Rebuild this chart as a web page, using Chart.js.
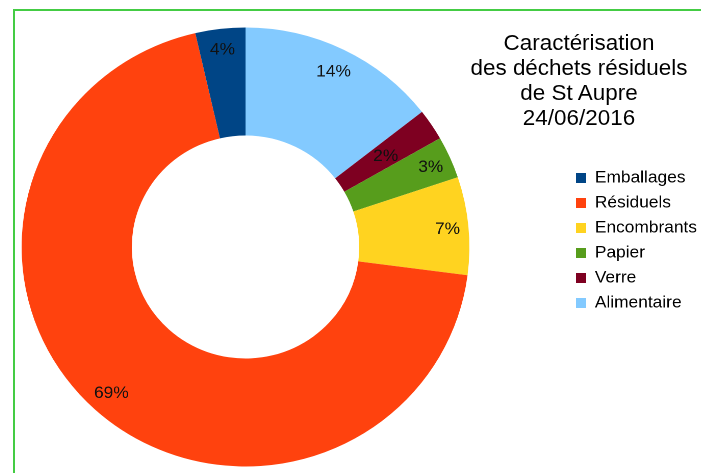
<!DOCTYPE html>
<html><head><meta charset="utf-8">
<script src="https://cdn.jsdelivr.net/npm/chart.js@4/dist/chart.umd.min.js"></script>
<style>
html,body{margin:0;padding:0;width:701px;height:473px;overflow:hidden;background:#fff;position:relative}
#frame{position:absolute;left:13px;top:9px;width:800px;height:600px;border:2px solid #44cc44;box-sizing:border-box}
#wrap{position:absolute;left:-71px;top:0;width:778px;height:473px;transform:scaleX(1.02);transform-origin:316.5px 0}
#title{position:absolute;left:459px;top:30px;width:240px;text-align:center;font:22px/25px 'Liberation Sans',Arial,sans-serif;color:#000;white-space:nowrap;transform:scaleX(1.02);transform-origin:120px 0}
</style></head><body>
<div id="frame"></div>
<div id="wrap"><canvas id="c" width="778" height="473"></canvas></div>
<div id="title"></div>
<script>
const categories = ['Alimentaire', 'Verre', 'Papier', 'Encombrants', 'Résiduels', 'Emballages'];
const values = [14.45, 2.3, 3.1, 7.2, 69.35, 3.6];
const colors = ['#83caff', '#7e0021', '#579d1c', '#ffd320', '#ff420e', '#004586'];
const titleLines = ['Caractérisation', 'des déchets résiduels', 'de St Aupre', '24/06/2016'];

const titleEl = document.getElementById('title');
titleLines.forEach((t, i) => {
  if (i) titleEl.appendChild(document.createElement('br'));
  titleEl.appendChild(document.createTextNode(t));
});

const pctLabels = {
  id: 'pctLabels',
  afterDatasetsDraw(chart, args, opts) {
    const ctx = chart.ctx;
    const meta = chart.getDatasetMeta(0);
    const data = chart.data.datasets[0].data;
    const total = data.reduce((a, b) => a + b, 0);
    ctx.save();
    ctx.font = opts.font;
    ctx.fillStyle = opts.color;
    ctx.textAlign = 'center';
    ctx.textBaseline = 'middle';
    meta.data.forEach((arc, i) => {
      const p = arc.getProps(['x', 'y', 'startAngle', 'endAngle', 'innerRadius', 'outerRadius'], true);
      const a = (p.startAngle + p.endAngle) / 2;
      const r = p.innerRadius + (p.outerRadius - p.innerRadius) * opts.radial[i];
      ctx.fillText(Math.round(data[i] / total * 100) + '%', p.x + Math.cos(a) * r, p.y + Math.sin(a) * r + 1.5);
    });
    ctx.restore();
  }
};

new Chart(document.getElementById('c'), {
  type: 'doughnut',
  data: {
    labels: categories,
    datasets: [{ data: values, backgroundColor: colors, borderWidth: 0, hoverOffset: 0 }]
  },
  options: {
    responsive: false,
    animation: false,
    devicePixelRatio: 2,
    cutout: '50.8%',
    layout: { padding: { left: 0.5, right: 17.5, top: 27.5, bottom: 6.5 } },
    plugins: {
      legend: {
        position: 'right',
        align: 'start',
        reverse: true,
        maxWidth: 128,
        title: { display: true, text: '', padding: { top: 120, bottom: 0 }, font: { size: 12, lineHeight: '14px' } },
        labels: {
          boxWidth: 10, boxHeight: 10, padding: 8, color: '#000',
          font: { family: "'Liberation Sans', Arial, sans-serif", size: 17 }
        }
      },
      tooltip: { enabled: false },
      pctLabels: {
        font: "17px 'Liberation Sans', Arial, sans-serif",
        color: '#111',
        radial: [0.79, 0.5, 0.81, 0.81, 0.78, 0.82]
      }
    }
  },
  plugins: [pctLabels]
});
</script>
</body></html>
